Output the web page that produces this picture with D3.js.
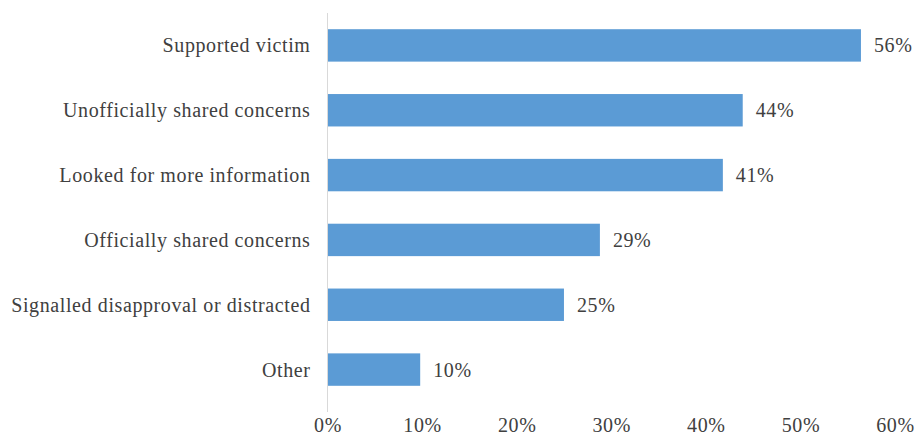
<!DOCTYPE html>
<html>
<head>
<meta charset="utf-8">
<script src="https://cdn.jsdelivr.net/npm/d3@7/dist/d3.min.js"></script>
<style>
  html, body { margin: 0; padding: 0; background: #fff; }
  svg { display: block; }
  text { font-family: "Liberation Serif", "DejaVu Serif", serif; fill: #404040; letter-spacing: 0.6px; }
</style>
</head>
<body>
<div id="chart"></div>
<script>
// Data
const categories = [
  "Supported victim",
  "Unofficially shared concerns",
  "Looked for more information",
  "Officially shared concerns",
  "Signalled disapproval or distracted",
  "Other"
];
const values = [56.4, 43.9, 41.8, 28.8, 25.0, 9.8];
const valueLabels = ["56%", "44%", "41%", "29%", "25%", "10%"];
const tickValues = [0, 10, 20, 30, 40, 50, 60];
const tickLabels = ["0%", "10%", "20%", "30%", "40%", "50%", "60%"];

const W = 920, H = 437;
const FS = 20;
const svg = d3.select("#chart").append("svg").attr("width", W).attr("height", H);

const x = d3.scaleLinear().domain([0, 60]).range([327.5, 895]);
const y = d3.scaleBand().domain(categories).range([13, 402]).paddingInner(0.5).paddingOuter(0.25);

// bars
svg.append("g").selectAll("rect").data(categories).join("rect")
  .attr("x", x(0))
  .attr("y", d => y(d))
  .attr("width", (d, i) => x(values[i]) - x(0))
  .attr("height", y.bandwidth())
  .attr("fill", "#5B9BD5");

// vertical axis line
svg.append("line")
  .attr("x1", x(0)).attr("x2", x(0))
  .attr("y1", y.range()[0]).attr("y2", y.range()[1] + 10)
  .attr("stroke", "#d9d9d9").attr("stroke-width", 1);

// category labels
svg.append("g").selectAll("text").data(categories).join("text")
  .attr("x", x(0) - 17)
  .attr("y", d => y(d) + y.bandwidth() / 2)
  .attr("dy", "0.35em")
  .attr("text-anchor", "end")
  .attr("font-size", FS)
  .text(d => d);

// value labels
svg.append("g").selectAll("text").data(categories).join("text")
  .attr("x", (d, i) => x(values[i]) + 13)
  .attr("y", d => y(d) + y.bandwidth() / 2)
  .attr("dy", "0.35em")
  .attr("font-size", FS)
  .text((d, i) => valueLabels[i]);

// x axis
const xAxis = d3.axisBottom(x).tickValues(tickValues).tickSize(0).tickPadding(0)
  .tickFormat((d, i) => tickLabels[i]);
const gx = svg.append("g").attr("transform", "translate(0,432)").call(xAxis);
gx.select(".domain").remove();
gx.selectAll("text").attr("font-size", FS).attr("fill", "#404040")
  .attr("font-family", "Liberation Serif, serif").attr("y", 0).attr("dy", "0");
</script>
</body>
</html>
